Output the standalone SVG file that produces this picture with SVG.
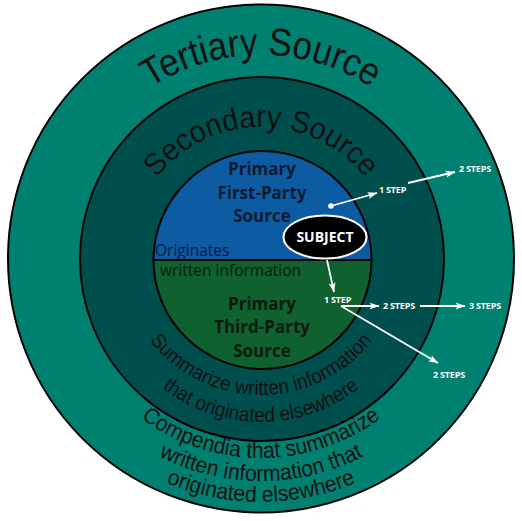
<svg xmlns="http://www.w3.org/2000/svg" width="522" height="521" viewBox="0 0 522 521">
<defs>
<style>
.ring{stroke:#000;stroke-width:2}
.arc{font-family:"Liberation Sans",Arial,sans-serif;fill:#111}
.prim{font-family:"Open Sans","Liberation Sans",sans-serif;font-weight:bold;font-size:17px;text-anchor:middle}
.step{font-family:"Open Sans","Liberation Sans",sans-serif;font-weight:bold;font-size:9px;fill:#fff;letter-spacing:-0.2px}
.conn{stroke:#fff;stroke-width:1.8;fill:none}
</style>
<marker id="ah" markerUnits="userSpaceOnUse" markerWidth="11" markerHeight="8" refX="9.5" refY="4" orient="auto">
<path d="M0,0.5 L10,4 L0,7.5 L2.5,4 Z" fill="#fff"/>
</marker>
<path id="pTert" d="M57,259 A204,204 0 0 1 465,259"/>
<path id="pSec" d="M129,259 A132,132 0 0 1 393,259"/>
<path id="pSum1" d="M120,254 A141,141 0 0 0 402,254"/>
<path id="pSum2" d="M101,262 A160,160 0 0 0 421,262"/>
<path id="pCom1" d="M61,258 A200,200 0 0 0 461,258"/>
<path id="pCom2" d="M37,257 A224,224 0 0 0 485,257"/>
<path id="pCom3" d="M16,257 A245,245 0 0 0 506,257"/>
</defs>

<g id="tertiary">
<ellipse class="ring" cx="261" cy="258.5" rx="253" ry="254" fill="#008070"/>
<text class="arc" font-size="39"><textPath href="#pTert" startOffset="50%" text-anchor="middle" textLength="234" lengthAdjust="spacingAndGlyphs">Tertiary Source</textPath></text>
<text class="arc" font-size="22.5"><textPath href="#pCom1" startOffset="50%" text-anchor="middle" textLength="257" lengthAdjust="spacingAndGlyphs">Compendia that summarize</textPath></text>
<text class="arc" font-size="22.5"><textPath href="#pCom2" startOffset="50%" text-anchor="middle" textLength="213" lengthAdjust="spacingAndGlyphs">written information that</textPath></text>
<text class="arc" font-size="22.5"><textPath href="#pCom3" startOffset="50%" text-anchor="middle" textLength="195" lengthAdjust="spacingAndGlyphs">originated elsewhere</textPath></text>
</g>

<g id="secondary">
<circle class="ring" cx="262" cy="259" r="182" fill="#004f4f"/>
<text class="arc" font-size="30.5"><textPath href="#pSec" startOffset="50%" text-anchor="middle" textLength="240" lengthAdjust="spacingAndGlyphs">Secondary Source</textPath></text>
<text class="arc" font-size="20.5"><textPath href="#pSum1" startOffset="50%" text-anchor="middle" textLength="257" lengthAdjust="spacingAndGlyphs">Summarize written information</textPath></text>
<text class="arc" font-size="20.5"><textPath href="#pSum2" startOffset="50%" text-anchor="middle" textLength="213" lengthAdjust="spacingAndGlyphs">that originated elsewhere</textPath></text>
</g>

<g id="primary-first">
<path class="ring" d="M153.5,260 A109,109 0 0 1 371.5,260 Z" fill="#0d5ba3"/>
<text class="prim" fill="#0c1a30"><tspan x="262" y="175">Primary</tspan><tspan x="262" y="198.5">First-Party</tspan><tspan x="262" y="222">Source</tspan></text>
<text x="155" y="256" font-family="Open Sans, Liberation Sans, sans-serif" font-size="15.5" fill="#0a1a3a">Originates</text>
</g>

<g id="primary-third">
<path class="ring" d="M153.5,260 A109,109 0 0 0 371.5,260 Z" fill="#0f612f"/>
<text x="160" y="275.5" font-family="Open Sans, Liberation Sans, sans-serif" font-size="15.5" fill="#0b1a0e">written information</text>
<text class="prim" fill="#0b1a0e"><tspan x="262" y="310">Primary</tspan><tspan x="262" y="333">Third-Party</tspan><tspan x="262" y="357">Source</tspan></text>
</g>

<g id="connectors">
<circle cx="331" cy="206" r="2.8" fill="#fff"/>
<line class="conn" x1="331" y1="206" x2="377" y2="193" marker-end="url(#ah)"/>
<line class="conn" x1="408" y1="183" x2="455" y2="172" marker-end="url(#ah)"/>
<line class="conn" x1="327" y1="260" x2="334" y2="292" marker-end="url(#ah)"/>
<line class="conn" x1="341" y1="306" x2="379" y2="306" marker-end="url(#ah)"/>
<line class="conn" x1="420" y1="306" x2="465" y2="306" marker-end="url(#ah)"/>
<line class="conn" x1="341" y1="306" x2="438" y2="363" marker-end="url(#ah)"/>
</g>

<g id="subject">
<ellipse cx="325" cy="237" rx="41.5" ry="21.5" fill="#000" stroke="#fff" stroke-width="2"/>
<text x="325" y="242" text-anchor="middle" font-family="Open Sans, Liberation Sans, sans-serif" font-weight="bold" font-size="14" fill="#fff">SUBJECT</text>
</g>

<g id="steps">
<text class="step" x="379" y="193">1 STEP</text>
<text class="step" x="459" y="172">2 STEPS</text>
<text class="step" x="324" y="303">1 STEP</text>
<text class="step" x="383" y="308.5">2 STEPS</text>
<text class="step" x="469" y="308.5">3 STEPS</text>
<text class="step" x="433" y="378">2 STEPS</text>
</g>
</svg>
